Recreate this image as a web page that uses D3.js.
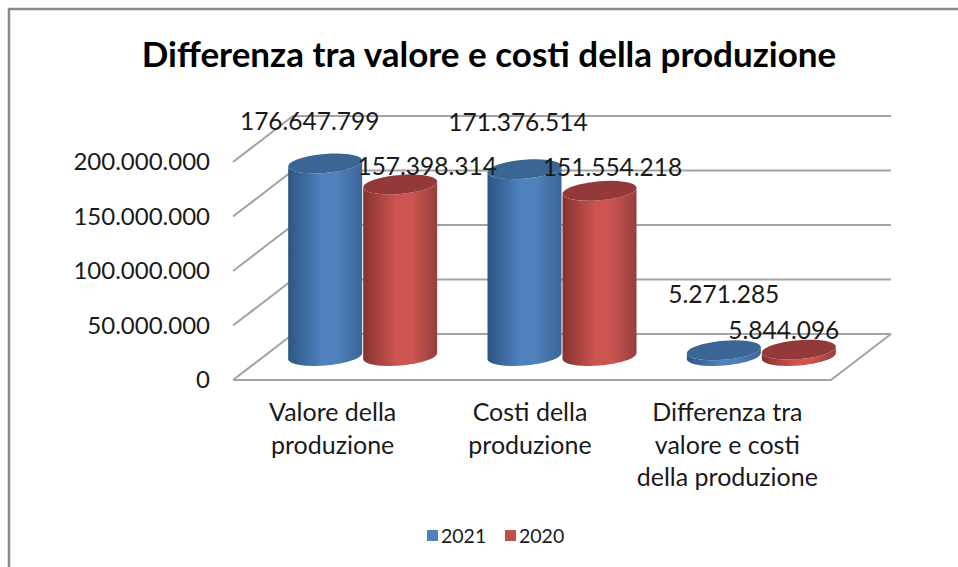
<!DOCTYPE html>
<html><head><meta charset="UTF-8">
<script src="https://d3js.org/d3.v7.min.js"></script>
<style>
body{margin:0;background:#fff;overflow:hidden}
text{font-family:Lato,"Open Sans",sans-serif;fill:#1a1a1a}
</style></head><body><div id="chart"></div>
<script>
const categories = [['Valore della', 'produzione'], ['Costi della', 'produzione'], ['Differenza tra', 'valore e costi', 'della produzione']];
const seriesNames = ['2021', '2020'];
const values2021 = [176647799, 171376514, 5271285];
const values2020 = [157398314, 151554218, 5844096];
const yTicks = [0, 50000000, 100000000, 150000000, 200000000];
const title = 'Differenza tra valore e costi della produzione';

const W = 958, H = 567;
const svg = d3.select('#chart').append('svg').attr('width', W).attr('height', H);
const defs = svg.append('defs');

const fmt = d3.formatLocale({ decimal: ',', thousands: '.', grouping: [3], currency: ['', ''] }).format(',d');

// front edge of the 3d floor + how far back the wall sits
const depthX = 60, depthY = -46;
const x = d3.scaleBand().domain(d3.range(categories.length)).range([233, 831]);
const xLabel = d3.scaleBand().domain(d3.range(categories.length)).range([234, 826]);
const y = d3.scaleLinear().domain([0, 200000000]).range([380, 162]);
const inner = d3.scaleBand().domain(seriesNames).range([-75, 75]);
const baseY = 356; // cylinders stand in the middle of the floor
const barDx = depthX / 2;

// chart frame, runs off the right and bottom of the crop
svg.append('rect').attr('x', 9).attr('y', 9).attr('width', W + 20).attr('height', H + 20)
  .attr('fill', '#fff').attr('stroke', '#8a8a8a').attr('stroke-width', 2.5);

svg.append('text').attr('x', 489).attr('y', 67).attr('text-anchor', 'middle')
  .style('font-size', '35px').style('font-weight', 700).style('fill', '#000').text(title);

// walls
const grid = svg.append('g').attr('fill', 'none').attr('stroke', '#a3a3a3').attr('stroke-width', 2);
yTicks.forEach(t => {
  grid.append('path').attr('d', d3.line()([
    [x.range()[0], y(t)],
    [x.range()[0] + depthX, y(t) + depthY],
    [x.range()[1] + depthX, y(t) + depthY]
  ]));
});
grid.append('path').attr('d', d3.line()([
  [x.range()[0], y(0)],
  [x.range()[1], y(0)],
  [x.range()[1] + depthX, y(0) + depthY]
]));

// y axis labels
const yAxis = svg.append('g').attr('transform', 'translate(210,0)')
  .call(d3.axisLeft(y).tickValues(yTicks).tickFormat(fmt).tickSize(0).tickPadding(0));
yAxis.select('.domain').remove();
yAxis.selectAll('text').style('font-size', '24px');

// category labels
categories.forEach((lines, i) => {
  const t = svg.append('text').attr('text-anchor', 'middle').style('font-size', '25px');
  lines.forEach((l, j) => {
    t.append('tspan').attr('x', xLabel(i) + xLabel.bandwidth() / 2).attr('y', 421 + j * 32.5).text(l);
  });
});

const palette = {
  '2021': { edge: '#2c5582', mid: '#4f81bd', side: '#3a6596', top: '#3b6593' },
  '2020': { edge: '#853230', mid: '#cd5551', side: '#94403d', top: '#93393a' }
};
seriesNames.forEach(s => {
  const p = palette[s];
  const g = defs.append('linearGradient').attr('id', 'body' + s);
  [[0, p.edge], [0.45, p.mid], [0.65, p.mid], [1, p.side]].forEach(([o, c]) => {
    g.append('stop').attr('offset', o).attr('stop-color', c);
  });
});

const rx = 37, ry = 9.5, shear = -0.08;
const ringPt = (cx, cy, a) => [cx + rx * Math.cos(a), cy + ry * Math.sin(a) + shear * rx * Math.cos(a)];
const arc = (cx, cy, a0, a1) => d3.range(0, 41).map(k => ringPt(cx, cy, a0 + (a1 - a0) * k / 40));

function cylinder(cx, topY, s) {
  // body = top back half is covered by the cap, so only the front half of the base matters
  const body = [...arc(cx, topY, Math.PI, 0), ...arc(cx, baseY, 0, Math.PI)];
  svg.append('path').attr('d', d3.line()(body) + 'Z').attr('fill', `url(#body${s})`);
  svg.append('path').attr('d', d3.line()(arc(cx, topY, 0, 2 * Math.PI)) + 'Z').attr('fill', palette[s].top);
}

const byYear = { '2021': values2021, '2020': values2020 };
// data label offsets from the top of each cylinder, as placed in the source chart
const labelShift = {
  '2021': [[-15.5, -42], [-6.5, -47], [0, -56]],
  '2020': [[27, -18], [13, -23], [-15, -19]]
};

const h = v => y(0) - y(v);
const barX = (i, s) => x(i) + x.bandwidth() / 2 + barDx + inner(s) + inner.bandwidth() / 2;
categories.forEach((_, i) => {
  seriesNames.forEach(s => cylinder(barX(i, s), baseY - h(byYear[s][i]), s));
});
// labels go on top of every bar
categories.forEach((_, i) => {
  seriesNames.forEach(s => {
    const [dx, dy] = labelShift[s][i];
    svg.append('text').attr('x', barX(i, s) + dx).attr('y', baseY - h(byYear[s][i]) + dy)
      .attr('dy', '0.35em').attr('text-anchor', 'middle')
      .style('font-size', '24.5px').text(fmt(byYear[s][i]));
  });
});

// legend
const legendX = d3.scaleOrdinal().domain(seriesNames).range([427, 505]);
const legendColor = { '2021': '#4f81bd', '2020': '#c0504d' };
seriesNames.forEach(s => {
  svg.append('rect').attr('x', legendX(s)).attr('y', 530).attr('width', 11).attr('height', 11)
    .attr('fill', legendColor[s]);
  svg.append('text').attr('x', legendX(s) + 14).attr('y', 536).attr('dy', '0.35em')
    .style('font-size', '19.5px').text(s);
});
</script></body></html>
